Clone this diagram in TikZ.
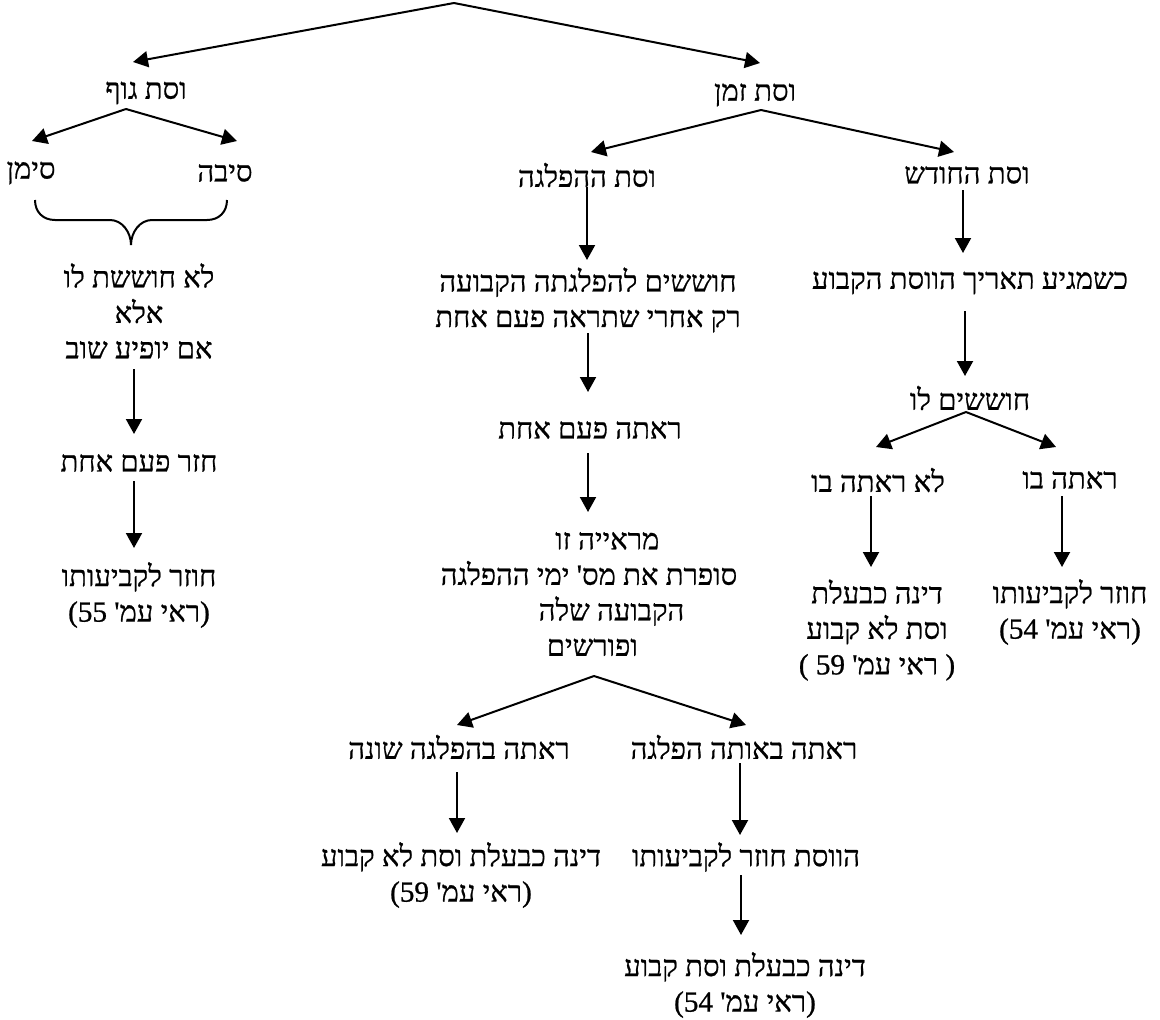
\documentclass[tikz,border=0pt]{standalone}
\usepackage{fontspec}
\setmainfont{Liberation Serif}
\newfontfamily\hebfont[Script=Hebrew, RawFeature={embolden=0.8}]{Liberation Serif}
\TeXXeTstate=1
\usetikzlibrary{arrows.meta, calc}
\newcommand{\rl}[1]{\beginR#1\endR}
\tikzset{
    heb-node/.style={
        align=center, inner sep=0pt, font=\hebfont\fontsize{17.5}{21.3}\selectfont
    },
    heb-arrow/.style={-{Triangle[length=9pt, width=9.6pt]}, line width=1.2pt},
    heb-line/.style={line width=1.2pt},
}

\begin{document}
\begin{tikzpicture}[x=0.6pt, y=-0.6pt]
        \useasboundingbox (0,0) rectangle (1160,1020);

        % ROOT AND FIRST LEVEL
        \coordinate[]    (ROOT) at (454,3);
        \node[heb-node] (GUF)  at (146,93) {\rl{וסת גוף}};
        \node[heb-node] (ZMAN) at (755,95) {\rl{וסת זמן}};
        \draw[heb-arrow] (ROOT) -- ($(GUF)+(-13,-31)$);
        \draw[heb-arrow] (ROOT) -- ($(ZMAN)+(5,-32)$);

        % VESET GUF
        \node[heb-node] (SIMAN)       at (31,173)  {\rl{סימן}};
        \node[heb-node] (SIBA)        at (225,173) {\rl{סיבה}};
        \node[heb-node] (LOHOSHESHET) at (139,311) {\rl{לא חוששת לו}\\ \rl{אלא}\\ \rl{אם יופיע שוב}};
        \node[heb-node] (HAZAR)       at (139,463) {\rl{חזר פעם אחת}};
        \node[heb-node] (HOZERGUF)    at (139,595) {\rl{חוזר לקביעותו}\\ \rl{(ראי עמ' \beginL55\endL)}};
        \coordinate[]   (GUFSPLIT)    at ($(GUF)+(-20,16)$);
        \draw[heb-arrow] (GUFSPLIT) -- ($(SIMAN)+(1,-32)$);
        \draw[heb-arrow] (GUFSPLIT) -- ($(SIBA)+(12,-32)$);

        % BRACE UNDER SIMAN AND SIBA
        \coordinate[] (BRL)   at ($(SIMAN)+(4,27)$);
        \coordinate[] (BRR)   at ($(SIBA)+(2,27)$);
        \coordinate[] (BRTIP) at ($(BRL)!0.5!(BRR)+(0,45)$);
        \draw[heb-line] (BRL) .. controls ($(BRL)+(0,12)$) and ($(BRL)+(8,20)$) .. ($(BRL)+(20,20)$)
            -- ($(BRTIP)+(-21,-25)$) .. controls ($(BRTIP)+(-9,-25)$) and ($(BRTIP)+(0,-13)$) .. (BRTIP)
            .. controls ($(BRTIP)+(0,-13)$) and ($(BRTIP)+(9,-25)$) .. ($(BRTIP)+(21,-25)$)
            -- ($(BRR)+(-20,20)$) .. controls ($(BRR)+(-8,20)$) and ($(BRR)+(0,12)$) .. (BRR);

        \draw[heb-arrow] ($(LOHOSHESHET)+(-5,58)$) -- ($(HAZAR)+(-5,-29)$);
        \draw[heb-arrow] ($(HAZAR)+(-5,18)$)       -- ($(HOZERGUF)+(-5,-47)$);

        % VESET ZMAN
        \node[heb-node] (HAFLAGA) at (587,175) {\rl{וסת ההפלגה}};
        \node[heb-node] (HODESH)  at (967,175) {\rl{וסת החודש}};
        \coordinate[]   (ZMANSPLIT) at ($(ZMAN)+(6,15)$);
        \draw[heb-arrow] (ZMANSPLIT) -- ($(HAFLAGA)+(4,-23)$);
        \draw[heb-arrow] (ZMANSPLIT) -- ($(HODESH)+(-13,-23)$);

        % VESET HAHAFLAGA
        \node[heb-node] (HOSHSHIM)   at (588,300) {\rl{חוששים להפלגתה הקבועה}\\ \rl{רק אחרי שתראה פעם אחת}};
        \node[heb-node] (RAATA)      at (590,430) {\rl{ראתה פעם אחת}};
        \node[heb-node] (MERAYA)     at (589,594) {\hspace*{22pt}\rl{מראייה זו}\\ \rl{סופרת את מס' ימי ההפלגה}\\ \hspace*{27pt}\rl{הקבועה שלה}\\ \hspace*{4pt}\rl{ופורשים}};
        \node[heb-node] (SHONA)      at (459,747) {\rl{ראתה בהפלגה שונה}};
        \node[heb-node] (OTA)        at (744,747) {\rl{ראתה באותה הפלגה}};
        \node[heb-node] (LOKAVUAHAF) at (461,875) {\rl{דינה כבעלת וסת לא קבוע}\\ \rl{(ראי עמ' \beginL59\endL)}};
        \node[heb-node] (HOZERHAF)   at (746,857) {\rl{הווסת חוזר לקביעותו}};
        \node[heb-node] (KAVUAHAF)   at (745,985) {\rl{דינה כבעלת וסת קבוע}\\ \rl{(ראי עמ' \beginL54\endL)}};
        \coordinate[]   (MERAYASPLIT) at ($(MERAYA)+(5,82)$);
        \draw[heb-arrow] ($(HAFLAGA)+(0,12)$) -- ($(HOSHSHIM)+(-1,-40)$);
        \draw[heb-arrow] ($(HOSHSHIM)+(0,33)$) -- ($(RAATA)+(-2,-38)$);
        \draw[heb-arrow] ($(RAATA)+(-2,23)$)   -- ($(MERAYA)+(-1,-82)$);
        \draw[heb-arrow] (MERAYASPLIT) -- ($(SHONA)+(-2,-22)$);
        \draw[heb-arrow] (MERAYASPLIT) -- ($(OTA)+(2,-22)$);
        \draw[heb-arrow] ($(SHONA)+(-2,25)$)    -- ($(LOKAVUAHAF)+(-4,-42)$);
        \draw[heb-arrow] ($(OTA)+(-4,16)$)      -- ($(HOZERHAF)+(-6,-22)$);
        \draw[heb-arrow] ($(HOZERHAF)+(-5,18)$) -- ($(KAVUAHAF)+(-4,-50)$);

        % VESET HAHODESH
        \node[heb-node] (KSHEMAGIA)  at (970,283)  {\rl{כשמגיע תאריך הווסת הקבוע}};
        \node[heb-node] (HOSHSHIMLO) at (970,398)  {\rl{חוששים לו}};
        \node[heb-node] (LORAATA)    at (878,480)  {\rl{לא ראתה בו}};
        \node[heb-node] (RAATABO)    at (1070,480) {\rl{ראתה בו}};
        \node[heb-node] (LOKAVUAHOD) at (877,630)  {\rl{דינה כבעלת}\\ \rl{וסת לא קבוע}\\ \rl{( ראי עמ' \beginL59\endL{} )}};
        \node[heb-node] (HOZERHOD)   at (1070,612) {\rl{חוזר לקביעותו}\\ \rl{(ראי עמ' \beginL54\endL)}};
        \coordinate[]   (LOSPLIT) at ($(HOSHSHIMLO)+(-4,14)$);
        \draw[heb-arrow] ($(HODESH)+(-4,15)$)    -- ($(KSHEMAGIA)+(-7,-30)$);
        \draw[heb-arrow] ($(KSHEMAGIA)+(-5,28)$) -- ($(HOSHSHIMLO)+(-5,-22)$);
        \draw[heb-arrow] (LOSPLIT) -- ($(LORAATA)+(-2,-33)$);
        \draw[heb-arrow] (LOSPLIT) -- ($(RAATABO)+(-14,-33)$);
        \draw[heb-arrow] ($(LORAATA)+(-7,16)$) -- ($(LOKAVUAHOD)+(-6,-63)$);
        \draw[heb-arrow] ($(RAATABO)+(-8,16)$) -- ($(HOZERHOD)+(-8,-45)$);

\end{tikzpicture}
\end{document}
